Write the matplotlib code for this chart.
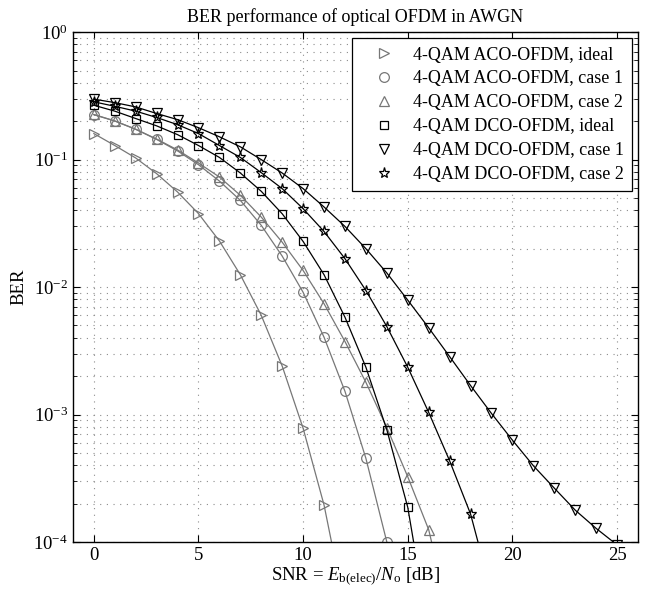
import numpy as np
import matplotlib
matplotlib.use("Agg")
import matplotlib.pyplot as plt
from matplotlib.ticker import LogLocator, NullFormatter, FixedLocator

plt.rcParams['font.family'] = ['Liberation Serif', 'DejaVu Serif']
plt.rcParams['mathtext.fontset'] = 'custom'
plt.rcParams['mathtext.rm'] = 'Liberation Serif'
plt.rcParams['mathtext.it'] = 'Liberation Serif:italic'

# SNR in dB and BER values
snr_aco_ideal = [0, 1, 2, 3, 4, 5, 6, 7, 8, 9, 10, 11, 12]
ber_aco_ideal = [0.16, 0.129, 0.103, 0.0776, 0.0557, 0.0377, 0.023, 0.0125,
                 0.006, 0.0024, 0.00078, 0.000195, 0.00003]

snr_aco_c1 = [0, 1, 2, 3, 4, 5, 6, 7, 8, 9, 10, 11, 12, 13, 14]
ber_aco_c1 = [0.225, 0.201, 0.173, 0.144, 0.117, 0.0912, 0.0679, 0.0479,
              0.0305, 0.0175, 0.0091, 0.00404, 0.00152, 0.000453, 0.0001]

snr_aco_c2 = [0, 1, 2, 3, 4, 5, 6, 7, 8, 9, 10, 11, 12, 13, 14, 15, 16, 17]
ber_aco_c2 = [0.226, 0.201, 0.173, 0.145, 0.119, 0.094, 0.073, 0.0525,
              0.0354, 0.0225, 0.0135, 0.0074, 0.00374, 0.00179, 0.00079,
              0.000325, 0.000125, 0.000025]

snr_dco_ideal = [0, 1, 2, 3, 4, 5, 6, 7, 8, 9, 10, 11, 12, 13, 14, 15, 16]
ber_dco_ideal = [0.267, 0.24, 0.21, 0.184, 0.157, 0.129, 0.104, 0.0785,
                 0.0564, 0.0376, 0.0228, 0.0125, 0.0058, 0.00235, 0.00076,
                 0.000187, 0.00002]

snr_dco_c1 = list(range(0, 26))
ber_dco_c1 = [0.298, 0.28, 0.259, 0.23, 0.206, 0.178, 0.151, 0.126, 0.1,
              0.0785, 0.0592, 0.0425, 0.0299, 0.02, 0.0129, 0.0079, 0.00479,
              0.00285, 0.00169, 0.00102, 0.00063, 0.000397, 0.000265,
              0.000178, 0.000128, 0.000095]

snr_dco_c2 = [0, 1, 2, 3, 4, 5, 6, 7, 8, 9, 10, 11, 12, 13, 14, 15, 16, 17, 18, 19]
ber_dco_c2 = [0.284, 0.262, 0.24, 0.214, 0.188, 0.16, 0.129, 0.104, 0.079,
              0.0592, 0.0412, 0.0273, 0.0167, 0.0094, 0.0049, 0.00235,
              0.00104, 0.000434, 0.000166, 0.00004]

gray = '#777777'
series = [
    (snr_aco_ideal, ber_aco_ideal, '>', gray, '4-QAM ACO-OFDM, ideal', 7),
    (snr_aco_c1, ber_aco_c1, 'o', gray, '4-QAM ACO-OFDM, case 1', 7),
    (snr_aco_c2, ber_aco_c2, '^', gray, '4-QAM ACO-OFDM, case 2', 7),
    (snr_dco_ideal, ber_dco_ideal, 's', 'black', '4-QAM DCO-OFDM, ideal', 6),
    (snr_dco_c1, ber_dco_c1, 'v', 'black', '4-QAM DCO-OFDM, case 1', 7),
    (snr_dco_c2, ber_dco_c2, '*', 'black', '4-QAM DCO-OFDM, case 2', 8),
]

fig = plt.figure(figsize=(6.51, 5.95), dpi=100)
ax = fig.add_axes([0.112, 0.089, 0.868, 0.857])

for x, y, m, c, lab, ms in series:
    ax.semilogy(x, y, '-', color=c, linewidth=0.9)
    ax.semilogy(x, y, linestyle='none', marker=m, color=c, markerfacecolor='none',
                markeredgewidth=0.9, markersize=ms, label=lab)

ax.set_xlim(-1, 26)
ax.set_ylim(1e-4, 1)
ax.xaxis.set_major_locator(FixedLocator([0, 5, 10, 15, 20, 25]))
ax.yaxis.set_major_locator(LogLocator(base=10, numticks=10))
ax.yaxis.set_minor_locator(LogLocator(base=10, subs=np.arange(2, 10), numticks=10))
ax.yaxis.set_minor_formatter(NullFormatter())

dots = (0, (1, 5))
ax.grid(True, which='major', linestyle=dots, color='#8c8c8c', linewidth=0.8)
ax.grid(True, which='minor', axis='y', linestyle=dots, color='#8c8c8c', linewidth=0.8)
ax.tick_params(which='both', direction='in', top=True, right=True, labelsize=13.5)
ax.tick_params(which='major', length=5)
ax.tick_params(which='minor', length=3)
for s in ax.spines.values():
    s.set_linewidth(1.0)

ax.set_title('BER performance of optical OFDM in AWGN', fontsize=13, pad=7)
ax.set_xlabel(r'SNR = $E_{\mathrm{b(elec)}}/N_{\mathrm{o}}$ [dB]', fontsize=13.5, labelpad=1)
ax.set_ylabel('BER', fontsize=13.5, labelpad=4)

leg = ax.legend(loc='upper right', fontsize=13, frameon=True, fancybox=False,
                edgecolor='black', framealpha=1, labelspacing=0.38,
                borderaxespad=0.35, borderpad=0.45, handletextpad=0.3,
                handlelength=2.6)
leg.get_frame().set_linewidth(0.9)

fig.savefig('out.png', dpi=100)
